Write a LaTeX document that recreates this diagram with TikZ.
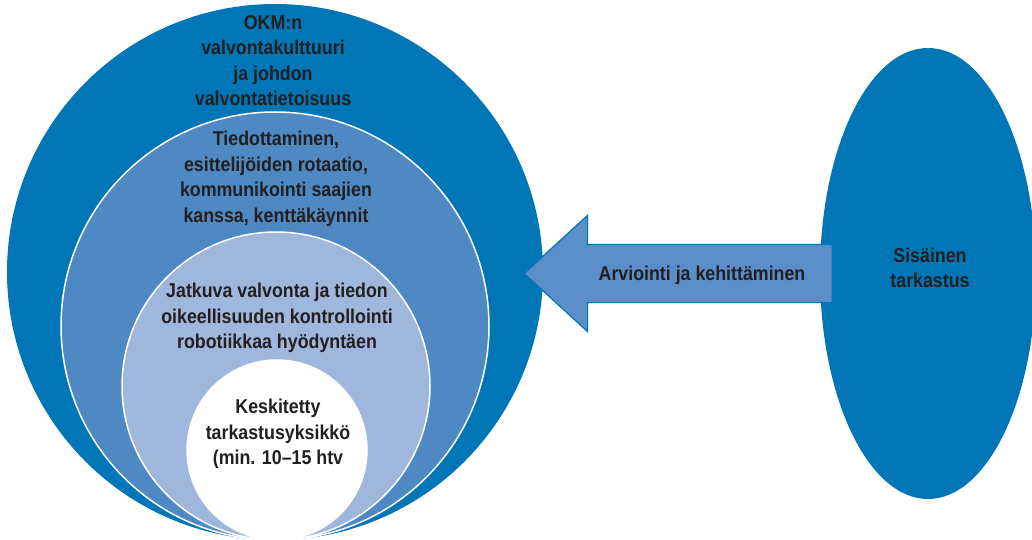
\documentclass[tikz,border=0pt]{standalone}
\usepackage{fontspec}
\setmainfont[FakeStretch=0.89]{Liberation Sans}
\usepackage{tikz}
\usetikzlibrary{shapes.geometric,shapes.arrows}
\definecolor{okmblue}{RGB}{0,118,183}
\definecolor{mid}{RGB}{78,137,195}
\definecolor{lt}{RGB}{160,183,221}
\definecolor{arr}{RGB}{91,142,201}
\definecolor{ink}{RGB}{35,31,32}
\tikzset{ring/.style={circle,draw=white,line width=1.5pt,inner sep=0pt,outer sep=0pt},
         lbl/.style={align=center,text=ink,font=\fontsize{20}{25.5}\selectfont\bfseries}}

\begin{document}
\begin{tikzpicture}[x=1pt,y=-1pt]
        \useasboundingbox (0,0) rectangle (1032,540);
        \node[circle,fill=okmblue,inner sep=0pt,minimum size=536] (okm) at (275,272){};
        \node[ring,fill=mid,minimum size=428] (tied) at (275,326){};
        \node[ring,fill=lt,minimum size=308] (jatk) at (276,386){};
        \node[ring,fill=white,minimum size=180] (kesk) at (277,450){};
        \node[ellipse,fill=okmblue,inner sep=0pt,minimum width=216,minimum height=451] (sis) at (928,273.5){};
        \node[single arrow,shape border rotate=180,fill=arr,draw=okmblue,line width=1.2pt,
              inner xsep=0pt,inner ysep=28.5pt,minimum width=115,minimum height=308,
              single arrow head extend=29,single arrow tip angle=85] (arv) at (694,273.5){};
        \node[lbl] (okmtxt) at (273,60.5){OKM:n\\valvontakulttuuri\\ja johdon\\valvontatietoisuus};
        \node[lbl] (tiedtxt) at (276,179){Tiedottaminen,\\esittelijöiden rotaatio,\\kommunikointi saajien\\kanssa, kenttäkäynnit};
        \node[lbl] (jatktxt) at (277,318){Jatkuva valvonta ja tiedon\\oikeellisuuden kontrollointi\\robotiikkaa hyödyntäen};
        \node[lbl] (keskxt) at (278,434){Keskitetty\\tarkastusyksikkö\\(min. 10–15 htv};
        \node[lbl] (sistxt) at (930,268){Sisäinen\\tarkastus};
        \node[lbl] (arvtxt) at (702,275){Arviointi ja kehittäminen};
\end{tikzpicture}
\end{document}
